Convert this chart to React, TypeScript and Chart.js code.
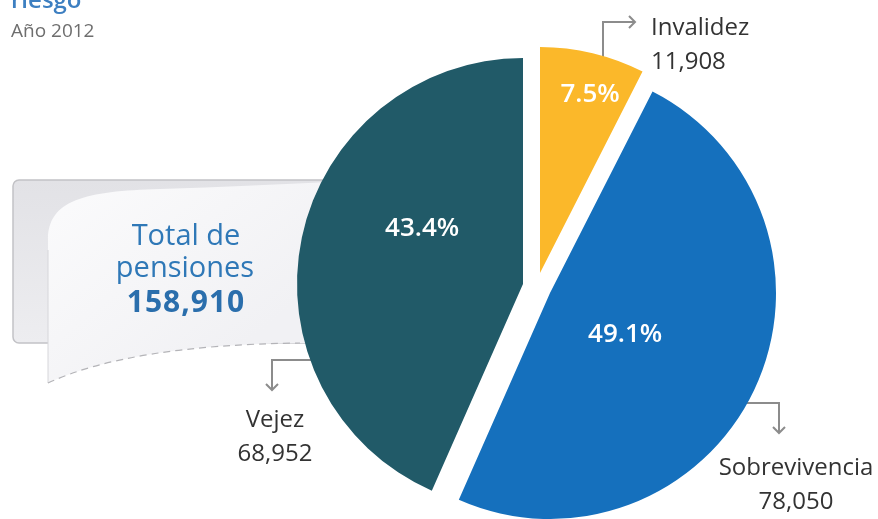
import React, { useEffect, useRef } from "react";
import { Chart, registerables } from "chart.js";

Chart.register(...registerables);

// ---- data ----
const categories = ["Invalidez", "Sobrevivencia", "Vejez"];
const pensions = [11908, 78050, 68952];
const valueLabels = ["11,908", "78,050", "68,952"];
const percentLabels = ["7.5%", "49.1%", "43.4%"];
const totalLines = ["Total de", "pensiones"];
const totalValue = "158,910";
const titleLines = ["riesgo", "Año 2012"];

// ---- style ----
const sliceColors = ["#FBB82A", "#1570BD", "#215A68"];
// explode shift (px) applied to each slice
const explode = [
  [2, -8],
  [12, 12],
  [-15, 3],
];
// percent label placement relative to each slice: angle (deg, clockwise from top), fraction of radius
const pctPlace = [
  { ang: 15.7, frac: 0.82 },
  { ang: 119, frac: 0.38 },
  { ang: 299, frac: 0.51 },
];
// callouts: leader path, arrow direction, text anchor
const callouts = [
  { path: [[603, 75], [603, 22], [635, 22]], arrow: "right", tx: 651, ty: 35, align: "left" },
  { path: [[735, 403], [779, 403], [779, 433]], arrow: "down", tx: 796, ty: 475, align: "center" },
  { path: [[320, 360], [272, 360], [272, 390]], arrow: "down", tx: 275, ty: 427, align: "center" },
];

const FONT = '"Open Sans", "Noto Sans", sans-serif';

function drawBox(ctx: CanvasRenderingContext2D) {
  ctx.save();
  // outer rounded rect
  ctx.beginPath();
  ctx.roundRect(13, 180, 340, 163, 6);
  const g = ctx.createLinearGradient(0, 180, 0, 343);
  g.addColorStop(0, "#e2e2e6");
  g.addColorStop(1, "#ededf0");
  ctx.fillStyle = g;
  ctx.fill();
  ctx.strokeStyle = "#c2c2c6";
  ctx.lineWidth = 1.5;
  ctx.stroke();

  // inner curled page
  ctx.beginPath();
  ctx.moveTo(48, 383);
  ctx.lineTo(48, 240);
  ctx.bezierCurveTo(48, 200, 85, 191, 160, 189);
  ctx.quadraticCurveTo(250, 186, 350, 181);
  ctx.lineTo(350, 343);
  ctx.lineTo(300, 343);
  ctx.quadraticCurveTo(130, 345, 48, 383);
  ctx.closePath();
  const g2 = ctx.createLinearGradient(48, 190, 200, 380);
  g2.addColorStop(0, "#fbfbfc");
  g2.addColorStop(1, "#f1f1f4");
  ctx.fillStyle = g2;
  ctx.fill();

  // left page edge
  ctx.beginPath();
  ctx.moveTo(48, 250);
  ctx.lineTo(48, 383);
  ctx.strokeStyle = "#d6d6da";
  ctx.lineWidth = 1;
  ctx.stroke();

  // dashed bottom curve
  ctx.beginPath();
  ctx.moveTo(48, 383);
  ctx.quadraticCurveTo(130, 345, 300, 343);
  ctx.setLineDash([7, 5]);
  ctx.strokeStyle = "#b4b4b8";
  ctx.lineWidth = 1.2;
  ctx.stroke();
  ctx.setLineDash([]);

  // texts
  ctx.textAlign = "center";
  ctx.textBaseline = "alphabetic";
  ctx.fillStyle = "#2F78B7";
  ctx.font = `29px ${FONT}`;
  ctx.fillText(totalLines[0], 186, 245);
  ctx.fillText(totalLines[1], 185, 277);
  ctx.font = `bold 30px ${FONT}`;
  (ctx as any).letterSpacing = "1px";
  ctx.fillStyle = "#2A6EAC";
  ctx.fillText(totalValue, 186, 312);
  (ctx as any).letterSpacing = "0px";
  ctx.restore();
}

function drawTitle(ctx: CanvasRenderingContext2D) {
  ctx.save();
  ctx.textAlign = "left";
  ctx.textBaseline = "alphabetic";
  ctx.fillStyle = "#3D7FC1";
  ctx.font = `600 24px ${FONT}`;
  ctx.fillText(titleLines[0], 11, 8);
  ctx.fillStyle = "#6E6E6E";
  ctx.font = `19px ${FONT}`;
  ctx.fillText(titleLines[1], 11, 37);
  ctx.restore();
}

function drawCallouts(ctx: CanvasRenderingContext2D) {
  ctx.save();
  ctx.strokeStyle = "#8C8C8C";
  ctx.lineWidth = 2;
  ctx.lineJoin = "miter";
  callouts.forEach((c) => {
    ctx.beginPath();
    c.path.forEach((p, i) => (i === 0 ? ctx.moveTo(p[0], p[1]) : ctx.lineTo(p[0], p[1])));
    ctx.stroke();
    const [ex, ey] = c.path[c.path.length - 1];
    ctx.beginPath();
    if (c.arrow === "right") {
      ctx.moveTo(ex - 6, ey - 6);
      ctx.lineTo(ex, ey);
      ctx.lineTo(ex - 6, ey + 6);
    } else {
      ctx.moveTo(ex - 6, ey - 6);
      ctx.lineTo(ex, ey);
      ctx.lineTo(ex + 6, ey - 6);
    }
    ctx.stroke();
  });
  ctx.restore();
}

function drawCalloutTexts(ctx: CanvasRenderingContext2D) {
  ctx.save();
  ctx.fillStyle = "#333333";
  ctx.font = `24px ${FONT}`;
  ctx.textBaseline = "alphabetic";
  callouts.forEach((c, i) => {
    ctx.textAlign = c.align as CanvasTextAlign;
    ctx.fillText(categories[i], c.tx, c.ty);
    ctx.fillText(valueLabels[i], c.tx, c.ty + 34);
  });
  ctx.restore();
}

const piePlugin = {
  id: "explodedPie",
  beforeDatasetsDraw(chart: any) {
    const ctx = chart.ctx as CanvasRenderingContext2D;
    drawTitle(ctx);
    drawBox(ctx);
    drawCallouts(ctx);
  },
  beforeDatasetDraw(chart: any, args: any) {
    const ctx = chart.ctx as CanvasRenderingContext2D;
    const meta = chart.getDatasetMeta(args.index);
    meta.data.forEach((arc: any, i: number) => {
      ctx.save();
      ctx.translate(explode[i][0], explode[i][1]);
      arc.draw(ctx);
      ctx.restore();
    });
    return false;
  },
  afterDatasetsDraw(chart: any) {
    const ctx = chart.ctx as CanvasRenderingContext2D;
    const meta = chart.getDatasetMeta(0);
    ctx.save();
    ctx.fillStyle = "#FFFFFF";
    ctx.font = `600 26px ${FONT}`;
    ctx.textAlign = "center";
    ctx.textBaseline = "middle";
    meta.data.forEach((arc: any, i: number) => {
      const cx = arc.x + explode[i][0];
      const cy = arc.y + explode[i][1];
      const a = (pctPlace[i].ang * Math.PI) / 180;
      const d = pctPlace[i].frac * arc.outerRadius;
      ctx.fillText(percentLabels[i], cx + Math.sin(a) * d, cy - Math.cos(a) * d);
    });
    ctx.restore();
    drawCalloutTexts(ctx);
  },
};

export default function App() {
  const ref = useRef<HTMLCanvasElement>(null);
  useEffect(() => {
    const chart = new Chart(ref.current as HTMLCanvasElement, {
      type: "pie",
      data: {
        labels: categories,
        datasets: [
          {
            data: pensions,
            backgroundColor: sliceColors,
            borderWidth: 0,
          },
        ],
      },
      options: {
        responsive: false,
        animation: false,
        events: [],
        radius: 226,
        layout: { padding: { left: 200, right: 2, top: 43, bottom: 0 } },
        plugins: {
          legend: { display: false },
          tooltip: { enabled: false },
        },
      } as any,
      plugins: [piePlugin],
    });
    return () => chart.destroy();
  }, []);
  return (
    <div style={{ position: "fixed", left: 0, top: 0, width: 878, height: 519, background: "#ffffff" }}>
      <canvas ref={ref} width={878} height={519} style={{ display: "block" }} />
    </div>
  );
}
